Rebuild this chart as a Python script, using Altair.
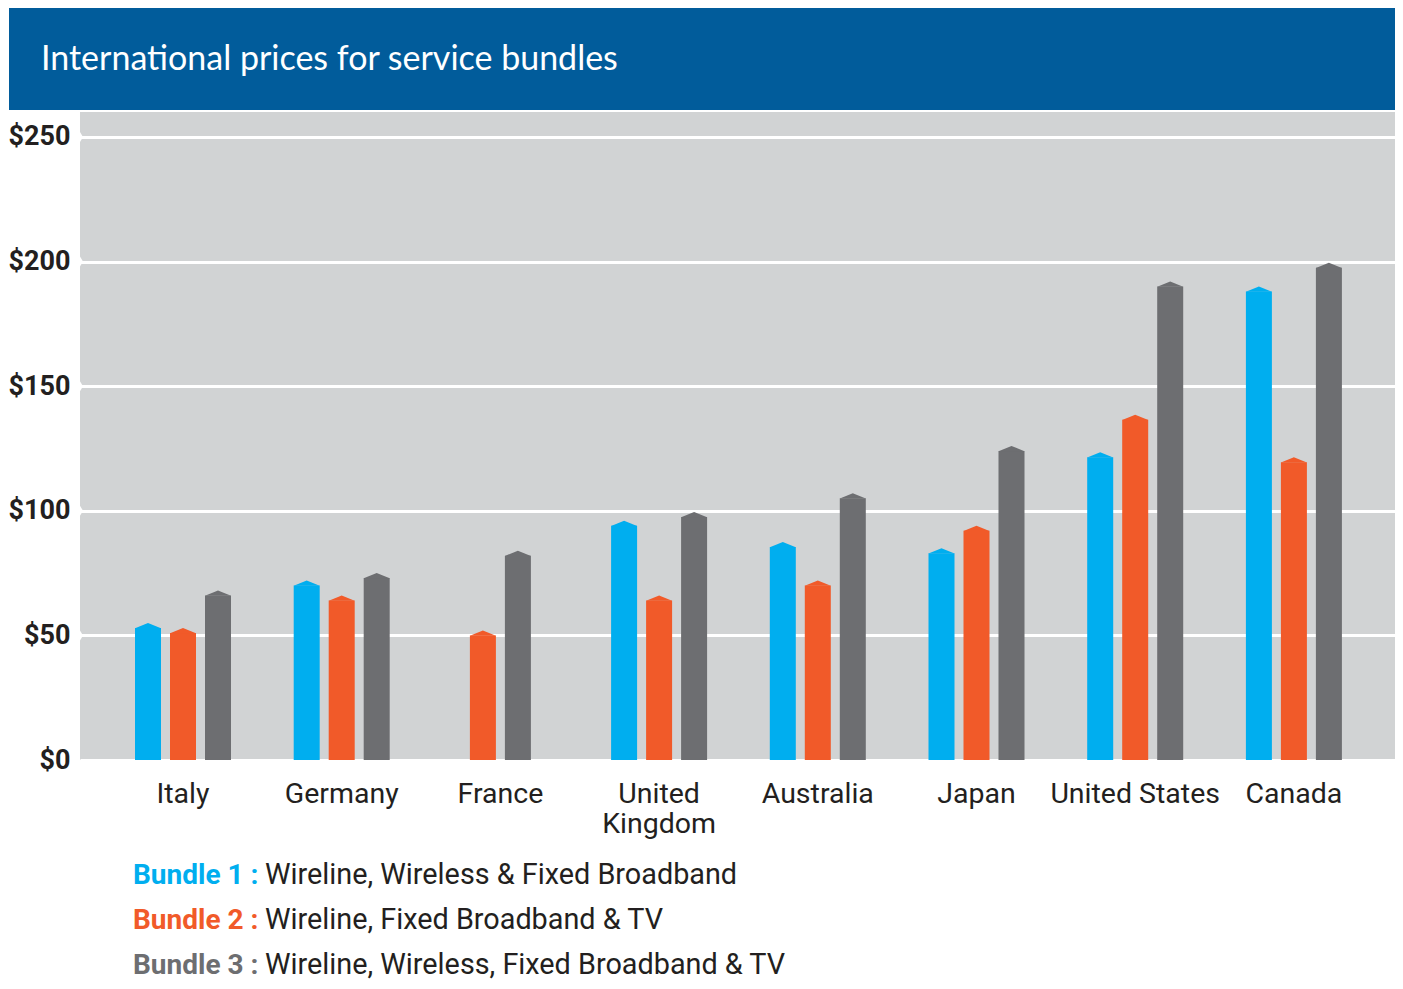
import altair as alt
import pandas as pd

countries = ["Italy", "Germany", "France", "United Kingdom", "Australia",
             "Japan", "United States", "Canada"]
bundles = ["Bundle 1", "Bundle 2", "Bundle 3"]
bundle1 = [55, 72, None, 96, 87.5, 85, 123.5, 190]
bundle2 = [53, 66, 52, 66, 72, 94, 138.5, 121.5]
bundle3 = [68, 75, 84, 99.5, 107, 126, 192, 199.5]
colors = ["#00aeef", "#f15a29", "#6d6e71"]
descriptions = ["Wireline, Wireless & Fixed Broadband",
                "Wireline, Fixed Broadband & TV",
                "Wireline, Wireless, Fixed Broadband & TV"]
y_ticks = [0, 50, 100, 150, 200, 250]
title_text = "International prices for service bundles"

# build long table; bars inside a group are centred on the group position
rows = []
for i, c in enumerate(countries):
    present = [(b, v) for b, v in zip(bundles, (bundle1[i], bundle2[i], bundle3[i])) if v is not None]
    n = len(present)
    for k, (b, v) in enumerate(present):
        rows.append({"country": c, "idx": i, "bundle": b, "value": v,
                     "slot": k - (n - 1) / 2})
df = pd.DataFrame(rows)
labels_df = pd.DataFrame({"country": countries, "idx": list(range(len(countries)))})
notch_df = pd.DataFrame({"v": [t for t in y_ticks if t > 0]})

W, H = 1315, 648
step_px = 158.7
sub_px = 35.0
bar_w = 26
x_lo = -103 / step_px
x_hi = x_lo + W / step_px

xscale = alt.Scale(domain=[x_lo, x_hi], nice=False, zero=False, padding=0)
yscale = alt.Scale(domain=[0, 260], nice=False, padding=0)
color_scale = alt.Scale(domain=bundles, range=colors)

base = alt.Chart(df).transform_calculate(
    pos=f"datum.idx + datum.slot * {sub_px / step_px}",
    shoulder="datum.value - 2",
)

bars = base.mark_bar(size=bar_w).encode(
    x=alt.X("pos:Q", scale=xscale, axis=None),
    y=alt.Y("shoulder:Q", scale=yscale,
            axis=alt.Axis(values=y_ticks, labelExpr="'$' + datum.value",
                          grid=True, gridColor="white", gridWidth=3,
                          domain=False, ticks=False, labelPadding=10,
                          labelFont="Roboto", labelFontWeight="bold",
                          labelFontSize=27, labelColor="#231f20", title=None)),
    y2=alt.datum(0),
    color=alt.Color("bundle:N", scale=color_scale, legend=None),
)

caps = base.mark_point(
    shape="M-1,0.02L0,-0.385L1,0.02Z", filled=True, size=bar_w * bar_w, opacity=1, strokeWidth=0
).encode(
    x=alt.X("pos:Q", scale=xscale),
    y=alt.Y("shoulder:Q", scale=yscale),
    color=alt.Color("bundle:N", scale=color_scale, legend=None),
)

notches = alt.Chart(notch_df).mark_point(
    shape="M-0.1,-1L0.5,0L-0.1,1Z", filled=True, size=144, opacity=1,
    strokeWidth=0, color="white"
).encode(x=alt.value(0), y=alt.Y("v:Q", scale=yscale))

country_labels = alt.Chart(labels_df).transform_calculate(
    lab="datum.country == 'United Kingdom' ? split(datum.country, ' ') : datum.country"
).mark_text(
    font="Roboto", fontSize=28.5, color="#231f20", baseline="alphabetic",
    lineHeight=30, align="center"
).encode(
    x=alt.X("idx:Q", scale=xscale),
    y=alt.value(H + 43),
    text="lab:N",
)

header = alt.Chart(pd.DataFrame({"t": [title_text]})).mark_rect(
    color="#015c9b"
).encode(
    x=alt.value(-71), x2=alt.value(W), y=alt.value(-104), y2=alt.value(-2)
)
title = alt.Chart(pd.DataFrame({"t": [title_text]})).mark_text(
    font="Lato", fontSize=34, color="white", align="left", baseline="alphabetic"
).encode(x=alt.value(-39), y=alt.value(-42), text="t:N")

legend_layers = []
for k, (b, d, col) in enumerate(zip(bundles, descriptions, colors)):
    ypix = H + 124 + k * 45
    ldf = pd.DataFrame({"b": [b + " :"], "d": [d]})
    legend_layers.append(alt.Chart(ldf).mark_text(
        font="Roboto", fontWeight="bold", fontSize=28, color=col,
        align="left", baseline="alphabetic"
    ).encode(x=alt.value(133 - 80), y=alt.value(ypix), text="b:N"))
    legend_layers.append(alt.Chart(ldf).mark_text(
        font="Roboto", fontSize=28.8, color="#231f20",
        align="left", baseline="alphabetic"
    ).encode(x=alt.value(265 - 80), y=alt.value(ypix), text="d:N"))

chart = alt.layer(header, title, bars, caps, notches, country_labels, *legend_layers).properties(
    width=W, height=H,
    padding={"left": 72, "top": 104, "right": 0, "bottom": 221},
    autosize=alt.AutoSizeParams(type="none"),
    background="white",
).configure_view(fill="#d1d3d4", stroke=None)

chart.save("out.html", embed_options={"renderer": "svg", "actions": False})
